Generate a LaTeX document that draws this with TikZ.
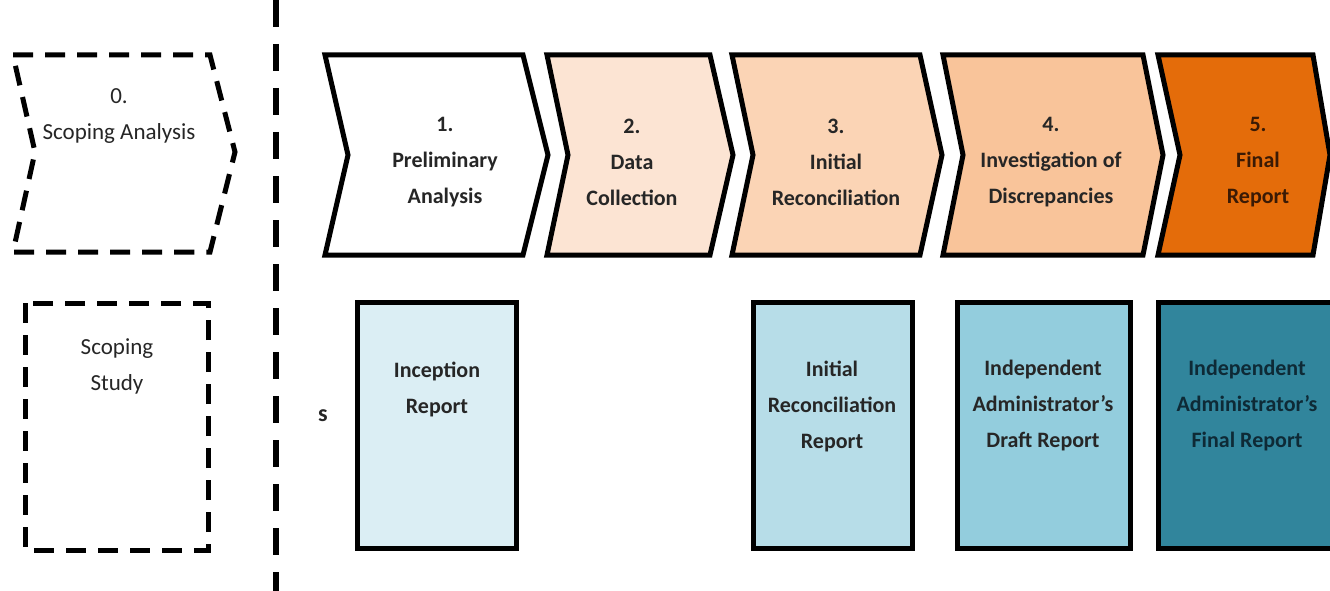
\documentclass[tikz,border=0pt]{standalone}
\usepackage{fontspec}
\setmainfont{Carlito}
\usepackage{tikz}

\definecolor{phaseA}{HTML}{FFFFFF}
\definecolor{phaseB}{HTML}{FCE4D3}
\definecolor{phaseC}{HTML}{FBD4B5}
\definecolor{phaseD}{HTML}{F9C49A}
\definecolor{phaseE}{HTML}{E46C0A}
\definecolor{repA}{HTML}{DBEEF4}
\definecolor{repB}{HTML}{B7DDE8}
\definecolor{repC}{HTML}{93CDDD}
\definecolor{repD}{HTML}{31859C}
\definecolor{textdark}{HTML}{262626}
\definecolor{textbrown}{HTML}{3A1A05}
\definecolor{textnavy}{HTML}{0E2A36}

\begin{document}
\begin{tikzpicture}
    [x = 1pt, y = -1pt, font = \fontsize{23}{36}\selectfont,
     phase/.style = {draw = black, line width = 5pt, line join = miter},
     phase text/.style = {align = center, font = \fontsize{22}{36}\selectfont\bfseries},
     report/.style = {draw = black, line width = 5pt},
     report text/.style = {align = center, font = \fontsize{22}{36}\selectfont\bfseries},
     scoping/.style = {draw = black, line width = 5pt, dash pattern = on 20pt off 12pt},
     scoping text/.style = {align = center, text = textdark}]
    \useasboundingbox (0,0) rectangle (1330,591);
    % scoping column
    \draw[scoping] (13,55) -- (210,55) -- (235,152) -- (210,252) -- (13,252) -- (35,152) -- cycle;
    \node[scoping text] (p0) at (119,116) {0.\\Scoping Analysis};
    \draw[scoping] (25,303) rectangle (208,550);
    \node[scoping text] (study) at (117,366) {Scoping\\Study};
    \draw[line width = 6pt, dash pattern = on 27pt off 17pt] (276,0) -- (276,591);
    % phases
    \foreach \n/\l/\r/\tip/\nt/\tx/\col/\tc/\txt in {
        1/325/523/548/348/445/phaseA/textdark/Preliminary\\Analysis,
        2/547/710/733/568/632/phaseB/textdark/Data\\Collection,
        3/732/920/942/753/836/phaseC/textdark/Initial\\Reconciliation,
        4/943/1143/1163/963/1051/phaseD/textdark/Investigation of\\Discrepancies,
        5/1158/1313/1330/1180/1258/phaseE/textbrown/Final\\Report}
      {
      \draw[phase, fill = \col] (\l,55) -- (\r,55) -- (\tip,155) -- (\r,255)
          -- (\l,255) -- (\nt,155) -- cycle;
      \node[phase text, text = \tc] (p\n) at (\tx,162) {\n.\\\txt};
      }
    % reports
    \node[font = \fontsize{24}{28}\selectfont\bfseries, text = textdark] (s) at (323,416) {s};
    \foreach \n/\l/\r/\tx/\ty/\col/\tc/\txt in {
        1/357/516/437/389/repA/textdark/Inception\\Report,
        3/753/912/832/406/repB/textdark/Initial\\Reconciliation\\Report,
        4/957/1130/1043/406/repC/textdark/Independent\\Administrator’s\\Draft Report,
        5/1158/1345/1247/406/repD/textnavy/Independent\\Administrator’s\\Final Report}
      {
      \draw[report, fill = \col] (\l,302) rectangle (\r,548);
      \node[report text, text = \tc] (r\n) at (\tx,\ty) {\txt};
      }
\end{tikzpicture}
\end{document}
